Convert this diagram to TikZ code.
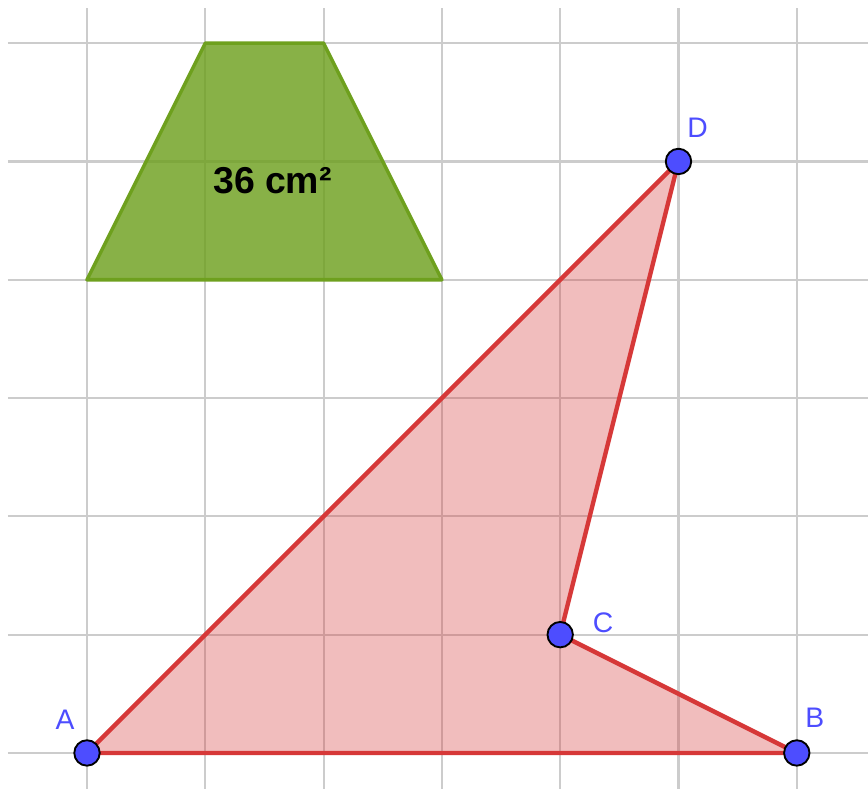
\documentclass[tikz,border=0pt]{standalone}
\usepackage{fontspec}
\setsansfont{Liberation Sans}
\usetikzlibrary{positioning}
\definecolor{gridgray}{RGB}{204,204,204}
\definecolor{polyred}{RGB}{214,56,56}
\definecolor{trapgreen}{RGB}{110,160,30}
\definecolor{ptblue}{RGB}{77,77,255}

\begin{document}
\begin{tikzpicture}[
  gridline/.style={draw=gridgray, line width=0.5pt},
  trap/.style={draw=trapgreen, line width=0.85pt, fill=trapgreen, fill opacity=0.82, line join=round},
  poly/.style={draw=polyred, line width=1.05pt, fill=polyred, fill opacity=0.33, line join=round},
  pt/.style={circle, draw=black, fill=ptblue, line width=0.45pt, inner sep=0pt, minimum size=0.215cm},
  lbl/.style={text=ptblue, font=\sffamily\fontsize{6.8}{8}\selectfont, inner sep=0pt},
]
\useasboundingbox (-0.7354,-0.3043) rectangle (6.602,6.365);
% grid
\foreach \x in {0,...,6} \draw[gridline] (\x,-0.31) -- (\x,6.298);
\foreach \y in {0,...,6} \draw[gridline] (-0.668,\y) -- (6.61,\y);
% trapezoid with its area
\coordinate (T1) at (0,4);
\coordinate (T2) at (3,4);
\coordinate (T3) at (2,6);
\coordinate (T4) at (1,6);
\draw[trap] (T1) -- (T2) -- (T3) -- (T4) -- cycle;
\node[font=\sffamily\bfseries\fontsize{9}{10}\selectfont, inner sep=0pt] (area) at (1.568,4.835) {36 cm²};
% polygon ABCD
\coordinate (A) at (0,0);
\coordinate (B) at (6,0);
\coordinate (C) at (4,1);
\coordinate (D) at (5,5);
\draw[poly] (A) -- (B) -- (C) -- (D) -- cycle;
\foreach \p in {A,B,C,D} \node[pt] (pt\p) at (\p) {};
\node[lbl] (labA) at ([shift={(-0.186,0.279)}]A) {A};
\node[lbl] (labB) at ([shift={(0.152,0.296)}]B) {B};
\node[lbl] (labC) at ([shift={(0.363,0.101)}]C) {C};
\node[lbl] (labD) at ([shift={(0.161,0.287)}]D) {D};
\end{tikzpicture}
\end{document}
